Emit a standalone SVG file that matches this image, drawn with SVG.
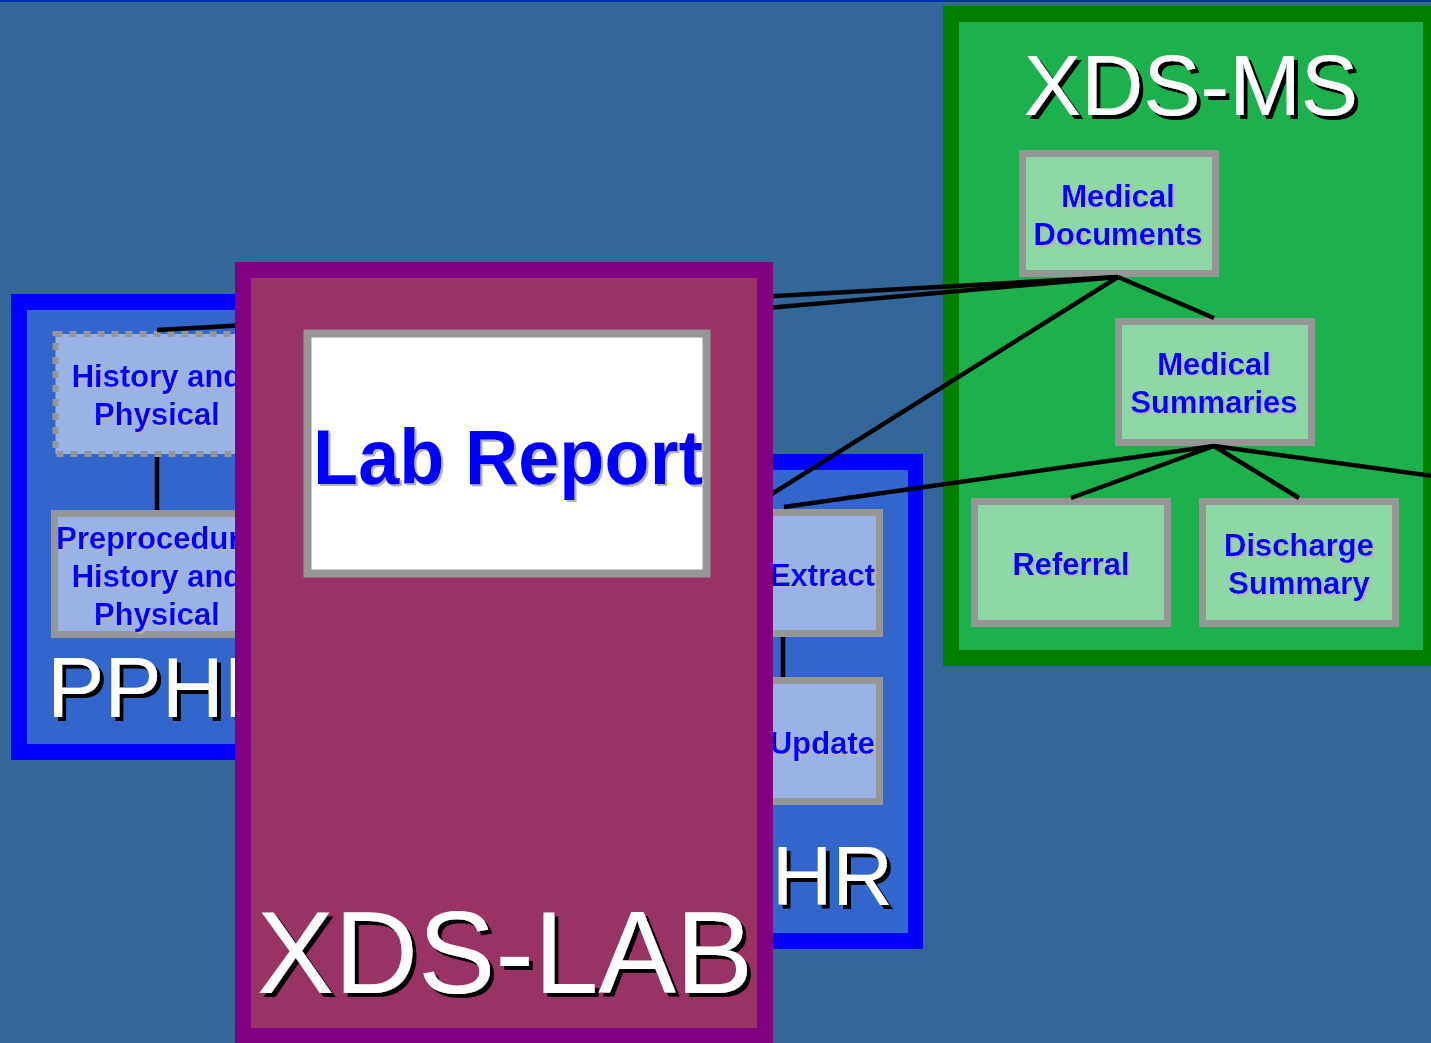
<svg xmlns="http://www.w3.org/2000/svg" width="1431" height="1043" viewBox="0 0 1431 1043">
<defs>
<filter id="shBlack" x="-10%" y="-10%" width="120%" height="130%">
<feDropShadow dx="4" dy="4" stdDeviation="0" flood-color="#000000" flood-opacity="1"/>
</filter>
<filter id="shGray" x="-10%" y="-10%" width="120%" height="130%">
<feDropShadow dx="2" dy="2" stdDeviation="0" flood-color="#B4B4B4" flood-opacity="1"/>
</filter>
<style>
.node-b{fill:#99B3E6;stroke:#969696;stroke-width:7}
.node-g{fill:#8ED8A5;stroke:#969696;stroke-width:7}
.lbl{font-family:"Liberation Sans",Arial,sans-serif;font-weight:bold;font-size:31px;text-anchor:middle;fill:#0000FF;filter:url(#shGray)}
.title{font-family:"Liberation Sans",Arial,sans-serif;fill:#FFFFFF;filter:url(#shBlack)}
.conn{stroke:#000000;stroke-width:4.5;fill:none;stroke-linecap:butt}
</style>
</defs>
<rect x="0" y="0" width="1431" height="1043" fill="#336699"/>
<rect x="0" y="0" width="1431" height="2" fill="#0033AA"/>

<g id="PPHP">
<rect x="11" y="294" width="300" height="466" fill="#0000FF"/>
<rect x="27" y="310" width="268" height="434" fill="#3366CC"/>
<text class="title" x="47" y="717" font-size="86">PPHP</text>
</g>

<g id="XPHR">
<rect x="640" y="454" width="283" height="495" fill="#0000FF"/>
<rect x="656" y="470" width="252" height="463" fill="#3366CC"/>
<text class="title" x="893" y="905" font-size="84" text-anchor="end">XPHR</text>
</g>

<g id="XDS-MS">
<rect x="943" y="6" width="496" height="660" fill="#008000"/>
<rect x="959" y="22" width="464" height="628" fill="#1DB14D"/>
<text class="title" x="1191" y="115" font-size="86" text-anchor="middle">XDS-MS</text>
</g>

<g id="HP">
<rect x="55.5" y="334" width="203" height="120" fill="#99B3E6" stroke="#969696" stroke-width="6" stroke-dasharray="7,7"/>
<text class="lbl" x="157" y="387">History and</text>
<text class="lbl" x="157" y="425">Physical</text>
</g>

<g id="Preproc">
<rect class="node-b" x="54.5" y="513.5" width="205" height="121"/>
<text class="lbl" x="157" y="549">Preprocedure</text>
<text class="lbl" x="157" y="587">History and</text>
<text class="lbl" x="157" y="625">Physical</text>
</g>

<g id="Extract">
<rect class="node-b" x="686.5" y="512.5" width="193" height="121"/>
<text class="lbl" x="875" y="586" style="text-anchor:end">Extract</text>
</g>

<g id="Update">
<rect class="node-b" x="686.5" y="680.5" width="193" height="121"/>
<text class="lbl" x="875" y="754" style="text-anchor:end">Update</text>
</g>

<g id="MedDocs">
<rect class="node-g" x="1022.5" y="153.5" width="193" height="120"/>
<text class="lbl" x="1118" y="207">Medical</text>
<text class="lbl" x="1118" y="245">Documents</text>
</g>

<g id="MedSum">
<rect class="node-g" x="1118.5" y="321.5" width="193" height="121"/>
<text class="lbl" x="1214" y="375">Medical</text>
<text class="lbl" x="1214" y="413">Summaries</text>
</g>

<g id="Referral">
<rect class="node-g" x="974.5" y="501.5" width="193" height="122"/>
<text class="lbl" x="1071" y="575">Referral</text>
</g>

<g id="Discharge">
<rect class="node-g" x="1202.5" y="501.5" width="193" height="122"/>
<text class="lbl" x="1299" y="556">Discharge</text>
<text class="lbl" x="1299" y="594">Summary</text>
</g>

<g id="connectors">
<line class="conn" x1="157" y1="457" x2="157" y2="510"/>
<line class="conn" x1="783" y1="637" x2="783" y2="677"/>
<line class="conn" x1="157" y1="330" x2="1118" y2="277"/>
<line class="conn" x1="507" y1="331" x2="1118" y2="277"/>
<line class="conn" x1="1118" y1="277" x2="660" y2="564"/>
<line class="conn" x1="1118" y1="277" x2="1214" y2="318"/>
<line class="conn" x1="1214" y1="446" x2="1071" y2="498"/>
<line class="conn" x1="1214" y1="446" x2="1299" y2="498"/>
<line class="conn" x1="1214" y1="446" x2="1440" y2="477"/>
<line class="conn" x1="1214" y1="446" x2="784" y2="507"/>
</g>

<g id="XDS-LAB">
<rect x="235" y="262" width="538" height="790" fill="#800080"/>
<rect x="251" y="278" width="506" height="750" fill="#993366"/>
<text class="title" x="505" y="993" font-size="116" text-anchor="middle">XDS-LAB</text>
</g>

<g id="LabReport">
<rect x="307.5" y="333.5" width="399" height="240" fill="#FFFFFF" stroke="#969696" stroke-width="8"/>
<text x="508" y="484" font-family="Liberation Sans, Arial, sans-serif" font-weight="bold" font-size="77" fill="#0000FF" text-anchor="middle" textLength="390" lengthAdjust="spacingAndGlyphs" filter="url(#shGray)">Lab Report</text>
</g>
</svg>
